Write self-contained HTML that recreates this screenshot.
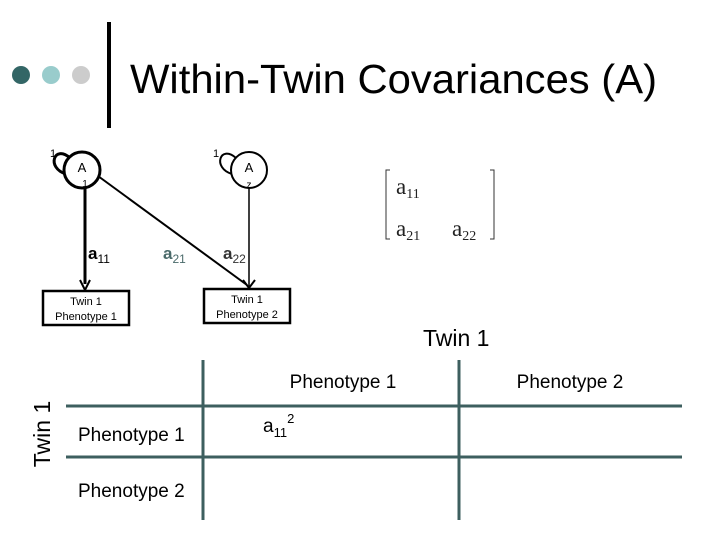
<!DOCTYPE html>
<html><head><style>
body{margin:0;width:720px;height:540px;background:#fff;overflow:hidden;font-family:"Liberation Sans",sans-serif;}
</style></head><body>
<svg width="720" height="540" xmlns="http://www.w3.org/2000/svg" font-family="Liberation Sans, sans-serif">
<circle cx="21" cy="75" r="9" fill="#336666"/>
<circle cx="51" cy="75" r="9" fill="#99cccc"/>
<circle cx="81" cy="75" r="9" fill="#cccccc"/>
<line x1="109" y1="22" x2="109" y2="128" stroke="#000" stroke-width="4"/>
<text x="130" y="93" font-size="41" textLength="527" lengthAdjust="spacingAndGlyphs">Within-Twin Covariances (A)</text>

<!-- A1 -->
<path d="M70,158 C54,144 46,168 66,174" fill="none" stroke="#000" stroke-width="3"/>
<text x="50" y="157" font-size="11">1</text>
<circle cx="82" cy="170" r="18" fill="#fff" stroke="#000" stroke-width="3"/>
<text x="82" y="172" font-size="13" text-anchor="middle">A</text>
<text x="85" y="187" font-size="10" text-anchor="middle">1</text>
<!-- A2 -->
<path d="M236,158 C220,144 212,168 232,174" fill="none" stroke="#000" stroke-width="2"/>
<text x="213" y="157" font-size="11">1</text>
<circle cx="249" cy="170" r="18" fill="#fff" stroke="#000" stroke-width="2"/>
<text x="249" y="172" font-size="13" text-anchor="middle">A</text>
<text x="249" y="188" font-size="10" text-anchor="middle">z</text>

<line x1="85" y1="188" x2="85" y2="284" stroke="#000" stroke-width="3"/>
<path d="M80,280 L85,290 L90,280" fill="none" stroke="#000" stroke-width="2"/>
<line x1="98" y1="176" x2="247" y2="285" stroke="#000" stroke-width="2"/>
<line x1="249" y1="188" x2="249" y2="286" stroke="#000" stroke-width="1.5"/>
<path d="M243,280 L249,288 L255,280" fill="none" stroke="#000" stroke-width="2"/>

<text x="88" y="259" font-size="17" font-weight="bold">a<tspan font-size="12" font-weight="normal" dy="4">11</tspan></text>
<text x="163" y="259" font-size="17" font-weight="bold" fill="#4a6a6a">a<tspan font-size="12" font-weight="normal" dy="4">21</tspan></text>
<text x="223" y="259" font-size="17" font-weight="bold" fill="#333">a<tspan font-size="12" font-weight="normal" dy="4">22</tspan></text>

<rect x="43" y="291" width="86" height="34" fill="#fff" stroke="#000" stroke-width="2.5"/>
<text x="86" y="305" font-size="11" text-anchor="middle">Twin 1</text>
<text x="86" y="320" font-size="11" text-anchor="middle">Phenotype 1</text>
<rect x="204" y="289" width="86" height="34" fill="#fff" stroke="#000" stroke-width="2.5"/>
<text x="247" y="303" font-size="11" text-anchor="middle">Twin 1</text>
<text x="247" y="318" font-size="11" text-anchor="middle">Phenotype 2</text>

<!-- matrix -->
<path d="M390,170 L386,170 L386,239 L390,239" fill="none" stroke="#333" stroke-width="1"/>
<path d="M490,170 L494,170 L494,239 L490,239" fill="none" stroke="#333" stroke-width="1"/>
<g font-family="Liberation Serif, serif" fill="#222">
<text x="396" y="194" font-size="23">a<tspan font-size="14" dy="4">11</tspan></text>
<text x="396" y="236" font-size="23">a<tspan font-size="14" dy="4">21</tspan></text>
<text x="452" y="236" font-size="23">a<tspan font-size="14" dy="4">22</tspan></text>
</g>

<!-- table -->
<text x="423" y="346" font-size="23">Twin 1</text>
<g stroke="#3d5f5f" stroke-width="3">
<line x1="203" y1="360" x2="203" y2="520"/>
<line x1="459" y1="360" x2="459" y2="520"/>
<line x1="66" y1="406" x2="682" y2="406"/>
<line x1="66" y1="457" x2="682" y2="457"/>
</g>
<text x="343" y="388" font-size="19" text-anchor="middle">Phenotype 1</text>
<text x="570" y="388" font-size="19" text-anchor="middle">Phenotype 2</text>
<text x="78" y="441" font-size="19">Phenotype 1</text>
<text x="78" y="497" font-size="19">Phenotype 2</text>
<text transform="translate(50,434) rotate(-90)" font-size="23" text-anchor="middle">Twin 1</text>
<text x="263" y="432" font-size="19">a<tspan font-size="13" dy="5">11</tspan><tspan font-size="13" dy="-14">2</tspan></text>
</svg>
</body></html>
